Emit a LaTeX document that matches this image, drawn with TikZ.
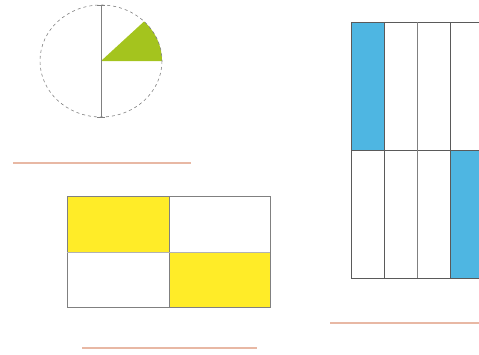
\documentclass[tikz,border=0pt]{standalone}
\definecolor{pieGreen}{RGB}{164,196,30}
\definecolor{boxYellow}{RGB}{255,236,40}
\definecolor{boxBlue}{RGB}{78,182,226}
\definecolor{lineSalmon}{RGB}{232,184,164}
\definecolor{frameGray}{RGB}{90,90,90}
\tikzset{
  grid/.style={draw=frameGray, line width=0.7pt},
  answer/.style={draw=lineSalmon, line width=1.3pt},
}
\begin{document}
\begin{tikzpicture}[x=1pt,y=-1pt]
\useasboundingbox (0,0) rectangle (479,354);
\clip (0,0) rectangle (479,354);
% pie
\fill[pieGreen] (101,61) -- (162,61) arc[start angle=0,end angle=45,x radius=61,y radius=-56] -- cycle;
\draw[gray, dashed, line width=0.6pt] (101,61) ellipse[x radius=61, y radius=56];
\draw[gray, line width=0.7pt] (101,5) -- (101,117);
\draw[gray, line width=0.7pt] (97,5) -- (105,5);
\draw[gray, line width=0.7pt] (97,117) -- (105,117);
\draw[answer] (13,163) -- (191,163);
% yellow rectangle
\fill[boxYellow] (67,196) rectangle (169,252);
\fill[boxYellow] (169,252) rectangle (270,307);
\draw[grid, draw=gray] (67,196) rectangle (270,307);
\draw[grid, draw=gray] (169,196) -- (169,307);
\draw[grid, draw=gray!60] (67,252) -- (270,252);
\draw[answer] (82,348) -- (257,348);
% blue rectangle
\fill[boxBlue] (351,22) rectangle (384,150);
\fill[boxBlue] (450,150) rectangle (483,278);
\draw[grid] (351,22) rectangle (560,278);
\draw[grid] (351,150) -- (560,150);
\draw[grid] (384,22) -- (384,278);
\draw[grid, draw=gray] (417,22) -- (417,278);
\draw[grid] (450,22) -- (450,278);
\draw[answer] (330,323) -- (479,323);
\end{tikzpicture}
\end{document}
